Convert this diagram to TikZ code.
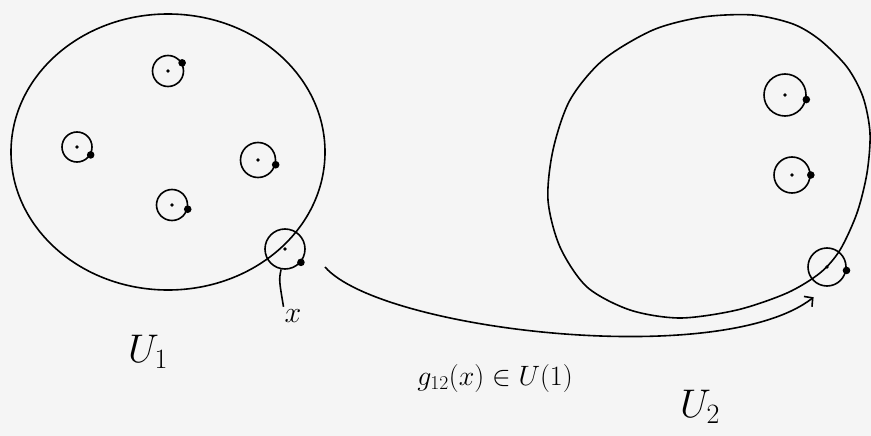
\documentclass[tikz,border=0pt]{standalone}
\usepackage{fix-cm}
\usepackage{amsmath, amssymb}
\usepackage{tikz}
\usetikzlibrary{positioning, arrows.meta}

\begin{document}
\begin{tikzpicture}[x=1pt, y=-1pt, line width=1.6pt, >={Straight Barb[length=6pt,width=13pt]},
                fiber/.style={circle, draw, inner sep=0pt, minimum size=#1},
                lab/.style={font=\fontsize{40}{44}\selectfont}]
                \fill[gray!8] (0,0) rectangle (871,436);
                \useasboundingbox (0,0) rectangle (871,436);

                % the two patches
                \draw (168,152) ellipse [x radius=157, y radius=138];
                \draw plot[smooth cycle, tension=0.5] coordinates {
                  (548,200) (553,150) (570,100) (603,60) (653,30) (703,17) (753,15)
                  (793,24) (820,40) (847,67) (863,97) (870,133) (867,173) (857,213)
                  (840,250) (820,273) (787,293) (737,310) (680,318) (630,310)
                  (587,287) (560,247)};

                % small circles with their points
                \foreach \n/\p/\s/\a in {a1/{168,71}/31/30, a2/{77,147}/30/-30,
                    a3/{258,160}/35/-15, a4/{172,205}/31/-15, b1/{285,249}/40/-40,
                    c1/{785,95}/42/-12, c2/{792,175}/36/0, b2/{827,267}/38/-10} {
                  \node[fiber=\s pt] (\n) at (\p) {};
                  \fill (\n) circle (1.8pt);
                  \fill (\n.\a) circle (3.8pt);
                }

                \node[font=\fontsize{30}{34}\selectfont, inner sep=0pt] (xlab) at (293,316) {$x$};
                \node[lab] (u1) at (148,352) {$U_1$};
                \node[lab] (u2) at (700,407) {$U_2$};
                \node[font=\fontsize{28}{32}\selectfont] (glab) at (495,378) {$g_{12}(x)\in U(1)$};
                \coordinate (tail) at (325,267);

                \draw[shorten >=2pt] (b1) .. controls (279,280) .. (xlab.north west);
                \draw[->, shorten >=17pt] (tail) .. controls (380,330) and (720,370) .. (b2.south);
            \end{tikzpicture}
\end{document}
